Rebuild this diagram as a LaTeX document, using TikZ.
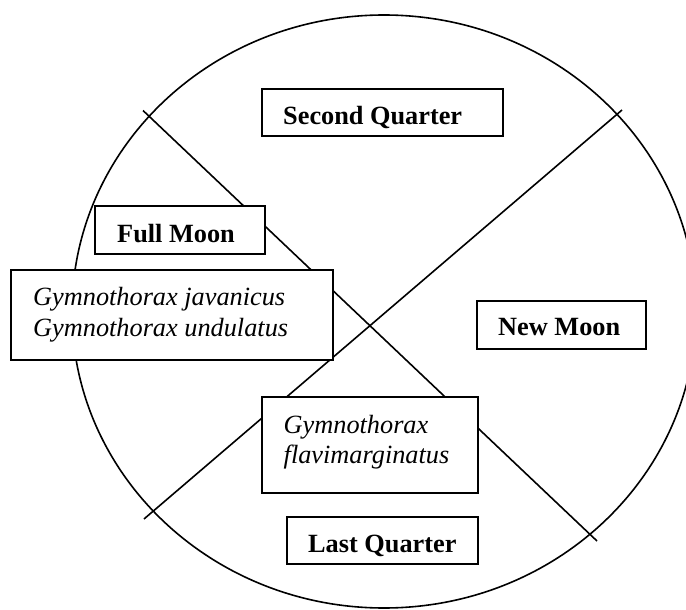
\documentclass[tikz,border=0pt]{standalone}
\usepackage{fontspec}
\setmainfont{Liberation Serif}
\begin{document}
\begin{tikzpicture}[x=1pt,y=-1pt,
  box/.style={draw=black,fill=white,line width=1.7pt,rectangle,inner sep=0pt},
  lab/.style={anchor=base west,inner sep=0pt,font=\fontsize{26.3}{31}\selectfont\bfseries},
  ital/.style={anchor=base west,inner sep=0pt,font=\fontsize{26.3}{31}\selectfont\itshape},
  rule/.style={line width=1.6pt}]
\useasboundingbox (0,0) rectangle (686,610);
\clip (0,0) rectangle (686,610);
\fill[white] (0,0) rectangle (686,610);
% moon circle
\draw[rule] (384,311.5) ellipse [x radius=312, y radius=296.5];
% crossing lines
\coordinate (a1) at (143,110.5);
\coordinate (a2) at (597,541);
\coordinate (b1) at (144,519);
\coordinate (b2) at (622,110);
\draw[rule] (a1) -- (a2);
\draw[rule] (b1) -- (b2);
% boxes
\node[box,minimum width=241,minimum height=47] (sq) at (382.5,112.5) {};
\node[box,minimum width=170,minimum height=48] (fm) at (180,230) {};
\node[box,minimum width=322,minimum height=90] (jv) at (172,315) {};
\node[box,minimum width=169,minimum height=48] (nm) at (561.5,325) {};
\node[box,minimum width=216,minimum height=96] (fv) at (370,445) {};
\node[box,minimum width=191,minimum height=47] (lq) at (382.5,540.5) {};
% labels
\node[lab] (sqt) at (283,124.5) {Second Quarter};
\node[lab] (fmt) at (117,242) {Full Moon};
\node[ital] (jv1) at (33,305.5) {Gymnothorax javanicus};
\node[ital] (jv2) at (33,336.5) {Gymnothorax undulatus};
\node[lab] (nmt) at (498,335.5) {New Moon};
\node[ital] (fv1) at (283.5,433) {Gymnothorax};
\node[ital] (fv2) at (283.5,463) {flavimarginatus};
\node[lab] (lqt) at (308,552) {Last Quarter};
\end{tikzpicture}
\end{document}
